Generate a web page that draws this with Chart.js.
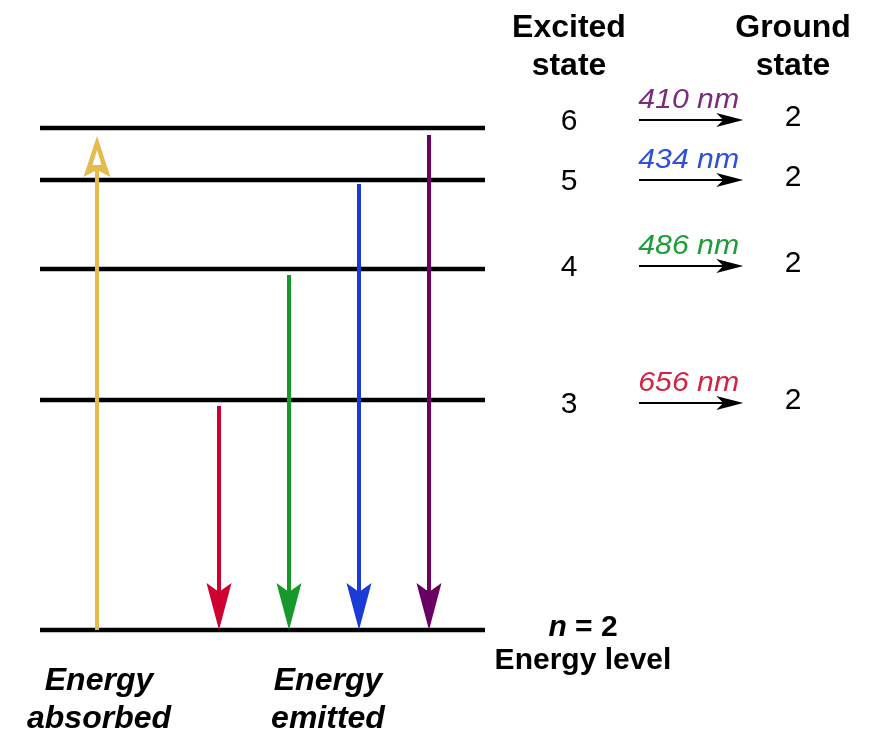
<!DOCTYPE html>
<html>
<head>
<meta charset="utf-8">
<script src="https://cdn.jsdelivr.net/npm/chart.js@4.4.1/dist/chart.umd.min.js"></script>
<style>
  html, body { margin: 0; padding: 0; background: #fff; }
  #caja { width: 875px; height: 734px; }
</style>
</head>
<body>
<div id="caja"><canvas id="diagrama" width="875" height="734"></canvas></div>
<script>
// niveles de energia del hidrogeno (altura esquematica sobre n = 2)
const niveles = [2, 3, 4, 5, 6];
const alturaNivel = [0, 230, 361, 450, 502];

// emision n -> 2
const nInicial = [3, 4, 5, 6];
const longitudOnda = [656, 486, 434, 410];
const columnaEmision = [1, 2, 3, 4];
const inicioEmision = [224, 355, 446, 495];
const colorEmision = ['#cd0030', '#16992a', '#1b3bd8', '#6a0062'];
const colorOnda = ['#d22442', '#1d9d36', '#2c50d9', '#7b2b7c'];

// absorcion 2 -> 6
const columnaAbsorcion = -0.743;
const finAbsorcion = 494;
const colorAbsorcion = '#e5bb4b';

// tabla de la derecha (de arriba hacia abajo)
const filaNivel = [6, 5, 4, 3];
const filaAltura = [510, 450, 364, 227];
const nivelFinal = 2;

const fuente = '"Liberation Sans", Arial, sans-serif';

const datasets = [];

// flechas de emision
nInicial.forEach((n, i) => {
  datasets.push({
    data: [{ x: columnaEmision[i], y: inicioEmision[i] }, { x: columnaEmision[i], y: 0 }],
    borderColor: colorEmision[i],
    borderWidth: 4,
    order: 1,
    flecha: { largo: 47, ancho: 12.5, muesca: 9 }
  });
});

// flecha de absorcion
datasets.push({
  data: [{ x: columnaAbsorcion, y: 0 }, { x: columnaAbsorcion, y: finAbsorcion }],
  borderColor: colorAbsorcion,
  borderWidth: 4,
  order: 1,
  flecha: { largo: 41, ancho: 13.5, muesca: 7, hueca: true }
});

// lineas de nivel
niveles.forEach((n, i) => {
  datasets.push({
    data: [{ x: -1.557, y: alturaNivel[i] }, { x: 4.8, y: alturaNivel[i] }],
    borderColor: '#000',
    borderWidth: 4.5,
    order: 2
  });
});

// flechitas negras de la tabla
filaNivel.forEach((n, i) => {
  datasets.push({
    data: [{ x: 7.0, y: filaAltura[i] }, { x: 8.49, y: filaAltura[i] }],
    borderColor: '#000',
    borderWidth: 2,
    order: 1,
    flecha: { largo: 27, ancho: 7, muesca: 7 }
  });
});

function geometria(meta, f) {
  const pts = meta.data;
  const p0 = pts[pts.length - 2], p1 = pts[pts.length - 1];
  const dx = p1.x - p0.x, dy = p1.y - p0.y;
  const l = Math.hypot(dx, dy);
  const d = { x: dx / l, y: dy / l };
  const nr = { x: -d.y, y: d.x };
  const en = (t, s) => ({ x: p1.x - d.x * t + nr.x * s, y: p1.y - d.y * t + nr.y * s });
  return { d, nr, en, punta: { x: p1.x, y: p1.y } };
}

const pluginFlechas = {
  id: 'flechas',
  beforeDatasetDraw(chart, args) {
    const ds = chart.data.datasets[args.index];
    if (!ds.flecha) return;
    const f = ds.flecha;
    const g = geometria(args.meta, f);
    const ctx = chart.ctx;
    const w = ds.borderWidth / 2 + 1;
    const a = g.en(-2, w), b = g.en(-2, -w), c = g.en(f.largo - f.muesca, -w), e = g.en(f.largo - f.muesca, w);
    ctx.save();
    ctx.beginPath();
    ctx.rect(0, 0, chart.width, chart.height);
    ctx.moveTo(a.x, a.y);
    ctx.lineTo(b.x, b.y);
    ctx.lineTo(c.x, c.y);
    ctx.lineTo(e.x, e.y);
    ctx.closePath();
    ctx.clip('evenodd');
  },
  afterDatasetDraw(chart, args) {
    const ds = chart.data.datasets[args.index];
    if (!ds.flecha) return;
    const ctx = chart.ctx;
    ctx.restore();
    const f = ds.flecha;
    const g = geometria(args.meta, f);
    const c1 = g.en(f.largo, f.ancho), c2 = g.en(f.largo, -f.ancho), m = g.en(f.largo - f.muesca, 0);
    ctx.save();
    ctx.fillStyle = ds.borderColor;
    ctx.beginPath();
    ctx.moveTo(g.punta.x, g.punta.y);
    ctx.lineTo(c1.x, c1.y);
    ctx.lineTo(m.x, m.y);
    ctx.lineTo(c2.x, c2.y);
    ctx.closePath();
    ctx.fill();
    if (f.hueca) {
      const h0 = g.en(14, 0), h1 = g.en(29, 4.5), h2 = g.en(29, -4.5);
      ctx.fillStyle = '#fff';
      ctx.beginPath();
      ctx.moveTo(h0.x, h0.y);
      ctx.lineTo(h1.x, h1.y);
      ctx.lineTo(h2.x, h2.y);
      ctx.closePath();
      ctx.fill();
    }
    ctx.restore();
  }
};

function escribir(ctx, txt, x, y, font, color, escalaX) {
  ctx.save();
  ctx.font = font;
  ctx.fillStyle = color;
  ctx.textAlign = 'center';
  ctx.textBaseline = 'alphabetic';
  ctx.translate(x, y);
  if (escalaX) ctx.scale(escalaX, 1);
  ctx.fillText(txt, 0, 0);
  ctx.restore();
}

const pluginTextos = {
  id: 'textos',
  afterDraw(chart) {
    const ctx = chart.ctx;
    const X = v => chart.scales.x.getPixelForValue(v);
    const Y = v => chart.scales.y.getPixelForValue(v);
    const negrita = 'bold 32px ' + fuente;
    const normal = '30px ' + fuente;
    const cursiva = 'italic 27px ' + fuente;
    const negCursiva = 'bold italic 32px ' + fuente;

    // encabezados
    escribir(ctx, 'Excited', X(6.0), Y(593), negrita, '#000');
    escribir(ctx, 'state', X(6.0), Y(555), negrita, '#000');
    escribir(ctx, 'Ground', X(9.2), Y(593), negrita, '#000');
    escribir(ctx, 'state', X(9.2), Y(555), negrita, '#000');

    // filas de la tabla
    filaNivel.forEach((n, i) => {
      const k = nInicial.indexOf(n);
      escribir(ctx, String(n), X(6.0), Y(filaAltura[i] - 10), normal, '#000');
      escribir(ctx, String(nivelFinal), X(9.2), Y(filaAltura[i] - 6), normal, '#000');
      escribir(ctx, longitudOnda[k] + ' nm', X(7.71), Y(filaAltura[i] + 12), cursiva, colorOnda[k], 1.12);
    });

    // n = 2
    ctx.save();
    ctx.fillStyle = '#000';
    ctx.textBaseline = 'alphabetic';
    ctx.textAlign = 'left';
    ctx.font = 'bold italic 30px ' + fuente;
    const wn = ctx.measureText('n').width;
    ctx.font = 'bold 30px ' + fuente;
    const wr = ctx.measureText(' = ' + nivelFinal).width;
    const x0 = X(6.2) - (wn + wr) / 2;
    ctx.font = 'bold italic 30px ' + fuente;
    ctx.fillText('n', x0, Y(-6));
    ctx.font = 'bold 30px ' + fuente;
    ctx.fillText(' = ' + nivelFinal, x0 + wn, Y(-6));
    ctx.restore();
    escribir(ctx, 'Energy level', X(6.2), Y(-39), 'bold 30px ' + fuente, '#000');

    // rotulos inferiores
    escribir(ctx, 'Energy', X(-0.714), Y(-60), negCursiva, '#000');
    escribir(ctx, 'absorbed', X(-0.714), Y(-98), negCursiva, '#000');
    escribir(ctx, 'Energy', X(2.557), Y(-60), negCursiva, '#000');
    escribir(ctx, 'emitted', X(2.557), Y(-98), negCursiva, '#000');
  }
};

new Chart(document.getElementById('diagrama'), {
  type: 'scatter',
  data: { datasets: datasets.map(d => Object.assign({ showLine: true, pointRadius: 0, borderCapStyle: 'butt' }, d)) },
  options: {
    responsive: false,
    animation: false,
    events: [],
    layout: { padding: 0 },
    plugins: { legend: { display: false }, tooltip: { enabled: false } },
    scales: {
      x: { type: 'linear', display: false, min: -149 / 70, max: 726 / 70 },
      y: { type: 'linear', display: false, min: -104, max: 630 }
    }
  },
  plugins: [pluginFlechas, pluginTextos]
});
</script>
</body>
</html>
